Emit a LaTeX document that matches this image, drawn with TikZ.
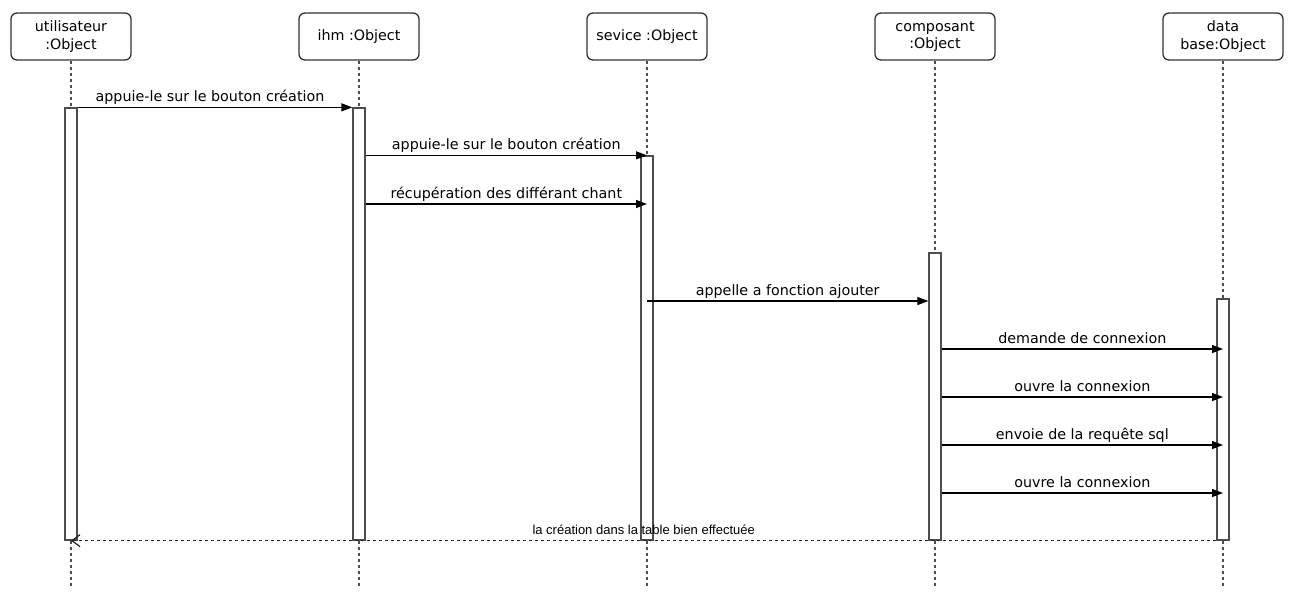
\documentclass[tikz,border=0pt]{standalone}
\usepackage{fontspec}
\setmainfont{DejaVu Sans}
\newfontfamily\arialf{Liberation Sans}
\usetikzlibrary{arrows.meta}
\definecolor{boxc}{HTML}{333333}
\definecolor{barc}{HTML}{4D4D4D}
\definecolor{lifec}{HTML}{4D4D4D}
\begin{document}
\begin{tikzpicture}[x=1pt,y=-1pt,
  obj/.style={draw=boxc, line width=1.3pt, rounded corners=6pt, minimum width=120pt, minimum height=47pt, align=center, font=\fontsize{14.3}{17.4}\selectfont, inner sep=0pt, text=black, fill=white},
  actbar/.style={draw=barc, fill=white, line width=1.3pt, minimum width=12pt, inner sep=0pt},
  life/.style={draw=lifec, line width=1.3pt, dash pattern=on 3pt off 3pt},
  msg/.style={draw=black, line width=1.2pt, -{Triangle[length=11pt,width=8pt]}},
  ret/.style={draw=black!85, line width=1.2pt, dash pattern=on 3pt off 3pt, -{Straight Barb[length=8pt,width=12pt,line width=1.2pt]}},
  lbl/.style={font=\fontsize{14.3}{17}\selectfont, anchor=base, inner sep=0pt, yshift=6pt},
  rlbl/.style={font=\arialf\fontsize{13}{15}\selectfont, anchor=base, inner sep=0pt, yshift=6pt}
]
\useasboundingbox (0,0) rectangle (1289,606);

% objects
\node[obj] (u) at (71,36.5) {utilisateur\\:Object};
\node[obj] (i) at (359,36.5) {ihm :Object};
\node[obj] (s) at (647,36.5) {sevice :Object};
\node[obj] (c) at (935,36.5) {composant\\:Object};
\node[obj] (d) at (1223,36.5) {data\\base:Object};

% lifeline ends
\coordinate (ue) at (71,588);
\coordinate (ie) at (359,588);
\coordinate (se) at (647,588);
\coordinate (ce) at (935,588);
\coordinate (de) at (1223,588);

\draw[life] (u.south) -- (ue);
\draw[life] (i.south) -- (ie);
\draw[life] (s.south) -- (se);
\draw[life] (c.south) -- (ce);
\draw[life] (d.south) -- (de);

% activation bars
\node[actbar, minimum height=432pt] (ub) at (71,324) {};
\node[actbar, minimum height=432pt] (ib) at (359,324) {};
\node[actbar, minimum height=384pt] (sb) at (647,348) {};
\node[actbar, minimum height=287pt] (cb) at (935,396.5) {};
\node[actbar, minimum height=241pt] (db) at (1223,419.5) {};

% message rows
\coordinate (m3) at (0,204);
\coordinate (m4) at (0,301);
\coordinate (m5) at (0,349);
\coordinate (m6) at (0,397);
\coordinate (m7) at (0,445);
\coordinate (m8) at (0,493);

\draw[msg] (ub.north east) -- node[lbl, xshift=-5pt]{appuie-le sur le bouton création} (ib.north west);
\draw[msg] (ib.east |- sb.north) -- node[lbl]{appuie-le sur le bouton création} (sb.north);
\draw[msg] (ib.east |- m3) -- node[lbl]{récupération des différant chant} (sb.center |- m3);
\draw[msg] (sb.center |- m4) -- node[lbl]{appelle a fonction ajouter} (cb.west |- m4);
\draw[msg] (cb.east |- m5) -- node[lbl]{demande de connexion} (db.center |- m5);
\draw[msg] (cb.east |- m6) -- node[lbl]{ouvre la connexion} (db.center |- m6);
\draw[msg] (cb.east |- m7) -- node[lbl]{envoie de la requête sql} (db.center |- m7);
\draw[msg] (cb.east |- m8) -- node[lbl]{ouvre la connexion} (db.center |- m8);
\draw[ret] (db.south west) -- node[rlbl]{la création dans la table bien effectuée} (ub.south);
\end{tikzpicture}
\end{document}
